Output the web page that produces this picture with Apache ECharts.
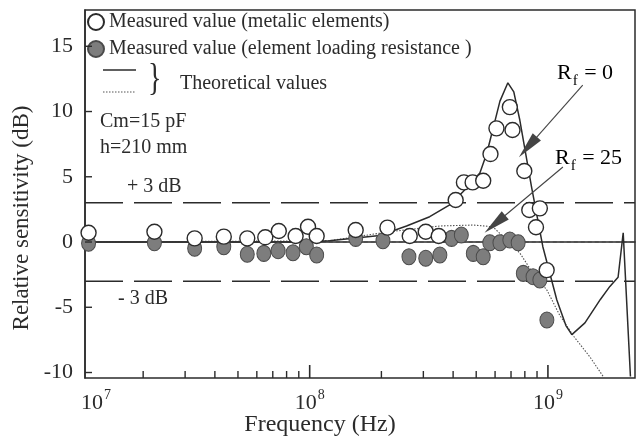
<!DOCTYPE html>
<html>
<head>
<meta charset="utf-8">
<script src="https://cdn.jsdelivr.net/npm/echarts@6/dist/echarts.min.js"></script>
<style>
  html, body { margin: 0; padding: 0; background: #ffffff; }
  #chart { width: 640px; height: 441px; }
</style>
</head>
<body>
<div id="chart"></div>
<script>
// Axis extents (frequency in Hz, sensitivity in dB)
const X_MIN = 1.14e7, X_MAX = 2.32e9;
const Y_MIN = -10.42, Y_MAX = 17.78;

// Tick positions
const yTickValues = [-10, -5, 0, 5, 10, 15];
const xMajorTicks = [1e8, 1e9];
const xMinorTicks = [2e7, 3e7, 4e7, 5e7, 6e7, 7e7, 8e7, 9e7,
                     2e8, 3e8, 4e8, 5e8, 6e8, 7e8, 8e8, 9e8];
const xLabelValues = [X_MIN, 1e8, 1e9];

// Measured values, metallic elements (open circles)
const openFreq = [1.18e7, 2.23e7, 3.29e7, 4.36e7, 5.47e7, 6.51e7, 7.42e7, 8.73e7, 9.84e7, 1.07e8,
                  1.56e8, 2.12e8, 2.63e8, 3.07e8, 3.48e8, 4.10e8, 4.44e8, 4.83e8, 5.35e8, 5.74e8,
                  6.08e8, 6.92e8, 7.10e8, 7.96e8, 8.35e8, 8.91e8, 9.25e8, 9.88e8];
const openDb   = [0.71, 0.79, 0.28, 0.41, 0.28, 0.36, 0.84, 0.46, 1.17, 0.46,
                  0.92, 1.10, 0.46, 0.79, 0.46, 3.22, 4.57, 4.57, 4.70, 6.74,
                  8.71, 10.34, 8.58, 5.44, 2.45, 1.13, 2.58, -2.15];

// Measured values, element loading resistance (grey filled circles)
const filledFreq = [1.18e7, 2.23e7, 3.29e7, 4.36e7, 5.47e7, 6.42e7, 7.37e7, 8.51e7, 9.68e7, 1.07e8,
                    1.56e8, 2.03e8, 2.61e8, 3.07e8, 3.52e8, 3.94e8, 4.33e8, 4.86e8, 5.35e8, 5.70e8,
                    6.29e8, 6.92e8, 7.50e8, 7.88e8, 8.66e8, 9.25e8, 9.90e8];
const filledDb   = [-0.10, -0.05, -0.48, -0.36, -0.94, -0.87, -0.67, -0.82, -0.36, -1.00,
                    0.28, 0.10, -1.13, -1.25, -1.00, 0.28, 0.54, -0.87, -1.13, -0.05,
                    -0.05, 0.15, -0.05, -2.40, -2.66, -2.91, -5.98];

// Theoretical response, Rf = 0 (solid)
const theoryR0Freq = [X_MIN, 9.07e7, 1.21e8, 1.97e8, 2.55e8, 3.19e8, 3.87e8, 4.40e8, 5.18e8, 5.54e8,
                      5.82e8, 6.29e8, 6.79e8, 7.19e8, 7.62e8, 8.53e8, 9.52e8, 1.09e9, 1.19e9, 1.26e9,
                      1.43e9, 1.66e9, 1.82e9, 1.97e9, 2.07e9, 2.22e9];
const theoryR0Db   = [0, 0, 0.1, 0.5, 1.23, 1.94, 2.84, 3.85, 5.29, 6.8,
                      8.35, 10.8, 12.2, 11.5, 9.35, 4.24, -0.36, -4.44, -6.4, -7.1,
                      -6.2, -4.4, -3.4, -2.7, 0.7, -10.3];

// Theoretical response, Rf = 25 (dotted)
const theoryR25Freq = [X_MIN, 1.21e8, 2.17e8, 3.52e8, 4.84e8, 5.87e8, 6.73e8, 7.62e8, 8.65e8,
                       9.90e8, 1.12e9, 1.29e9, 1.50e9, 1.72e9];
const theoryR25Db   = [0, 0.1, 0.79, 1.23, 1.30, 1.17, 0.15, -0.84, -2.38,
                       -3.68, -5.6, -7.28, -8.8, -10.4];

// Reference levels
const plusLevel = 3, minusLevel = -3, zeroLevel = 0;
const zeroRefStart = 7e7;

// Arrows from the Rf labels to their curves: [fromFreq, fromDb, toFreq, toDb]
const arrowR0 = [1.40e9, 12.03, 8.24e8, 7.28];
const arrowR25 = [1.156e9, 5.75, 5.99e8, 1.38];

const zip = (xs, ys) => xs.map((x, i) => [x, ys[i]]);

const SERIF = '"Liberation Serif", "DejaVu Serif", serif';
const INK = '#2b2b2b';
const supRich = {
  b: { fontFamily: SERIF, fontSize: 22, color: INK, lineHeight: 26, verticalAlign: 'bottom' },
  s: { fontFamily: SERIF, fontSize: 14, color: INK, lineHeight: 26, verticalAlign: 'top', padding: [0, 0, 0, 1] },
  pad: { width: 22 }
};
const subRich = {
  b: { fontFamily: SERIF, fontSize: 22, color: INK, lineHeight: 26, verticalAlign: 'bottom' },
  s: { fontFamily: SERIF, fontSize: 15, color: INK, lineHeight: 26, verticalAlign: 'bottom', padding: [0, 1, -5, 1] }
};

const chart = echarts.init(document.getElementById('chart'), null, { renderer: 'canvas' });

function arrowLine(a) {
  return {
    silent: true,
    symbol: ['none', 'triangle'],
    symbolSize: [11, 27],
    label: { show: false },
    lineStyle: { color: '#444', width: 1.1, type: 'solid' },
    itemStyle: { color: '#8a8a8a', borderColor: '#333', borderWidth: 1 },
    emphasis: { disabled: true },
    animation: false,
    data: [[{ coord: [a[0], a[1]] }, { coord: [a[2], a[3]] }]]
  };
}

// Inward tick marks drawn as thin rectangles sitting on the axes
function tickSeries(name, data, size, offset) {
  return {
    name: name, type: 'scatter', silent: true, clip: false, z: 6,
    symbol: 'rect', symbolSize: size, symbolOffset: offset,
    data: data,
    itemStyle: { color: INK, opacity: 1 },
    emphasis: { disabled: true }
  };
}

const option = {
  backgroundColor: '#ffffff',
  animation: false,
  grid: {
    left: 85, right: 5, top: 10, bottom: 63,
    show: true, borderColor: INK, borderWidth: 1.5, backgroundColor: 'transparent'
  },
  legend: {
    orient: 'vertical',
    left: 82, top: 7,
    itemGap: 7,
    itemWidth: 16, itemHeight: 16,
    icon: 'circle',
    selectedMode: false,
    textStyle: { fontFamily: SERIF, fontSize: 20, color: INK },
    data: ['Measured value (metalic elements)', 'Measured value (element loading resistance )']
  },
  xAxis: {
    type: 'log',
    logBase: 10,
    min: X_MIN,
    max: X_MAX,
    position: 'bottom',
    splitLine: { show: false },
    axisLine: { show: true, lineStyle: { color: INK, width: 1.5 } },
    axisTick: { show: false },
    axisLabel: {
      show: true, margin: 10,
      customValues: xLabelValues,
      formatter: v => {
        const e = Math.round(Math.log10(v));
        return (v < 2e7 ? '{pad| }' : '') + '{b|10}{s|' + e + '}';
      },
      rich: supRich
    }
  },
  yAxis: {
    type: 'value',
    min: Y_MIN, max: Y_MAX,
    splitLine: { show: false },
    axisLine: { show: true, lineStyle: { color: INK, width: 1.5 } },
    axisTick: { show: false },
    axisLabel: {
      show: true, margin: 12,
      customValues: yTickValues,
      fontFamily: SERIF, fontSize: 22, color: INK
    }
  },
  graphic: [
    // theoretical-values key
    { type: 'line', shape: { x1: 103, y1: 70, x2: 136, y2: 70 }, style: { stroke: INK, lineWidth: 1.4 } },
    { type: 'line', shape: { x1: 103, y1: 92, x2: 136, y2: 92 }, style: { stroke: '#555', lineWidth: 1.1, lineDash: [1.5, 1.5] } },
    { type: 'text', x: 148, y: 80, scaleY: 1.35,
      style: { text: '}', fontFamily: SERIF, fontSize: 28, fill: INK, align: 'left', verticalAlign: 'middle' } },
    { type: 'text', x: 180, y: 84, style: { text: 'Theoretical values', fontFamily: SERIF, fontSize: 20, fill: INK, align: 'left', verticalAlign: 'middle' } },
    { type: 'text', x: 100, y: 122, style: { text: 'Cm=15 pF', fontFamily: SERIF, fontSize: 20, fill: INK, align: 'left', verticalAlign: 'middle' } },
    { type: 'text', x: 100, y: 148, style: { text: 'h=210 mm', fontFamily: SERIF, fontSize: 20, fill: INK, align: 'left', verticalAlign: 'middle' } },
    { type: 'text', x: 127, y: 187, style: { text: '+ 3 dB', fontFamily: SERIF, fontSize: 20, fill: INK, align: 'left', verticalAlign: 'middle' } },
    { type: 'text', x: 118, y: 299, style: { text: '- 3 dB', fontFamily: SERIF, fontSize: 20, fill: INK, align: 'left', verticalAlign: 'middle' } },
    { type: 'text', x: 557, y: 71, style: { text: '{b|R}{s|f}{b| = 0}', rich: subRich, align: 'left', verticalAlign: 'middle' } },
    { type: 'text', x: 555, y: 156, style: { text: '{b|R}{s|f}{b| = 25}', rich: subRich, align: 'left', verticalAlign: 'middle' } },
    // axis titles
    { type: 'text', x: 22, y: 218, rotation: Math.PI / 2,
      style: { text: 'Relative sensitivity (dB)', fontFamily: SERIF, fontSize: 23, fill: INK, align: 'center', verticalAlign: 'middle' } },
    { type: 'text', x: 320, y: 425,
      style: { text: 'Frequency (Hz)', fontFamily: SERIF, fontSize: 24, fill: INK, align: 'center', verticalAlign: 'middle' } }
  ],
  series: [
    {
      name: '+3 dB', type: 'line', symbol: 'none', silent: true, z: 1,
      data: [[X_MIN, plusLevel], [X_MAX, plusLevel]],
      lineStyle: { color: INK, width: 1.5, type: [38, 11] }
    },
    {
      name: '-3 dB', type: 'line', symbol: 'none', silent: true, z: 1,
      data: [[X_MIN, minusLevel], [X_MAX, minusLevel]],
      lineStyle: { color: INK, width: 1.5, type: [38, 11] }
    },
    {
      name: '0 dB', type: 'line', symbol: 'none', silent: true, z: 1,
      data: [[zeroRefStart, zeroLevel], [X_MAX, zeroLevel]],
      lineStyle: { color: '#444', width: 1.2, type: [4, 3] }
    },
    {
      name: 'Theory Rf=25', type: 'line', symbol: 'none', silent: true, z: 2,
      data: zip(theoryR25Freq, theoryR25Db),
      lineStyle: { color: '#555', width: 1.1, type: [1.5, 1.5] },
      markLine: arrowLine(arrowR25)
    },
    {
      name: 'Theory Rf=0', type: 'line', symbol: 'none', silent: true, z: 3,
      data: zip(theoryR0Freq, theoryR0Db),
      lineStyle: { color: INK, width: 1.5 },
      markLine: arrowLine(arrowR0)
    },
    {
      name: 'Measured value (element loading resistance )', type: 'scatter', z: 4,
      symbol: 'circle', symbolSize: [14, 16],
      data: zip(filledFreq, filledDb),
      itemStyle: { color: '#7d7d7d', borderColor: '#4a4a4a', borderWidth: 1, opacity: 1 }
    },
    {
      name: 'Measured value (metalic elements)', type: 'scatter', z: 5,
      symbol: 'circle', symbolSize: 15,
      data: zip(openFreq, openDb),
      itemStyle: { color: '#ffffff', borderColor: '#2b2b2b', borderWidth: 1.4, opacity: 1 }
    },
    tickSeries('y ticks', yTickValues.map(v => [X_MIN, v]), [7, 1.4], [3.5, 0]),
    tickSeries('x minor ticks', xMinorTicks.map(v => [v, Y_MIN]), [1.4, 7], [0, -3.5]),
    tickSeries('x major ticks', xMajorTicks.map(v => [v, Y_MIN]), [1.6, 13], [0, -6.5])
  ]
};

chart.setOption(option);
</script>
</body>
</html>
